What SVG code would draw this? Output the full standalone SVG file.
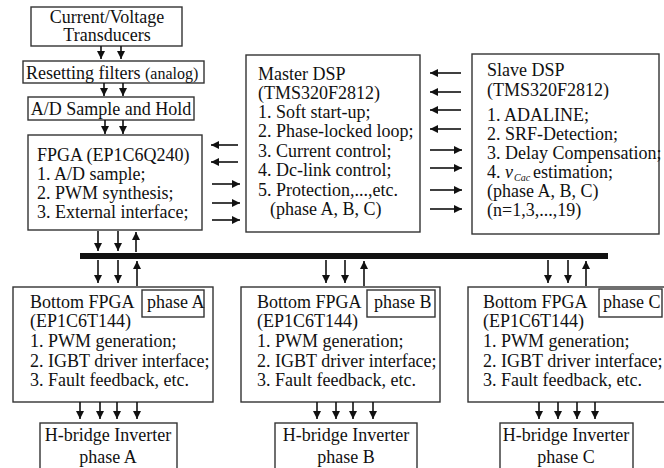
<svg xmlns="http://www.w3.org/2000/svg" width="664" height="468" viewBox="0 0 664 468">
<style>
.box{fill:#fff;stroke:#333;stroke-width:1.4}
text{font-family:'Liberation Serif','DejaVu Serif',serif;font-size:18px;fill:#111}
.sm{font-size:16px}
.c{text-anchor:middle}
.ln{stroke:#111;stroke-width:1.6;fill:none;marker-end:url(#ah)}
</style>
<defs>
<marker id="ah" markerUnits="userSpaceOnUse" markerWidth="9" markerHeight="8" refX="8" refY="4" orient="auto">
<path d="M0,0 L8,4 L0,8 Z" fill="#111"/>
</marker>
</defs>
<rect width="664" height="468" fill="#fff"/>
<g font-family="'Liberation Serif','DejaVu Serif',serif">
<g id="transducers"><rect class="box" x="31" y="7" width="151" height="39"/>
<text class="c" x="107" y="23" font-size="17px">Current/Voltage</text><text class="c" x="107" y="41" font-size="17px">Transducers</text></g>
<g id="filters"><rect class="box" x="23" y="61" width="181" height="22"/>
<text x="26" y="79">Resetting filters <tspan class="sm">(analog)</tspan></text></g>
<g id="adsample"><rect class="box" x="28" y="97" width="166" height="23"/>
<text class="c" x="111" y="115">A/D Sample and Hold</text></g>
<g id="fpga"><rect class="box" x="28" y="135" width="174" height="95"/>
<text x="37" y="161">FPGA (EP1C6Q240)</text>
<text x="37" y="180">1. A/D sample;</text>
<text x="37" y="199">2. PWM synthesis;</text>
<text x="37" y="218">3. External interface;</text></g>
<g id="master"><rect class="box" x="246" y="55" width="174" height="177"/>
<text x="258" y="80">Master DSP</text>
<text x="258" y="99">(TMS320F2812)</text>
<text x="258" y="118">1. Soft start-up;</text>
<text x="258" y="137">2. Phase-locked loop;</text>
<text x="258" y="157">3. Current control;</text>
<text x="258" y="176">4. Dc-link control;</text>
<text x="258" y="196">5. Protection,...,etc.</text>
<text x="270" y="215">(phase A, B, C)</text></g>
<g id="slave"><rect class="box" x="472" y="54" width="187" height="180"/>
<text x="487" y="76">Slave DSP</text>
<text x="487" y="96">(TMS320F2812)</text>
<text x="487" y="121">1. ADALINE;</text>
<text x="487" y="140">2. SRF-Detection;</text>
<text x="487" y="159">3. Delay Compensation;</text>
<text x="487" y="178">4. <tspan font-style="italic">v</tspan><tspan font-style="italic" font-size="10px" dx="1" dy="3">Cac</tspan><tspan dy="-3" dx="3">estimation;</tspan></text>
<text x="487" y="197">(phase A, B, C)</text>
<text x="487" y="216">(n=1,3,...,19)</text></g>
<g id="bottomA"><rect class="box" x="13" y="287" width="200" height="115"/>
<rect class="box" x="142" y="290" width="62" height="27"/>
<text x="147" y="308">phase A</text>
<text x="30" y="308">Bottom FPGA</text>
<text x="30" y="327">(EP1C6T144)</text>
<text x="30" y="347">1. PWM generation;</text>
<text x="30" y="367">2. IGBT driver interface;</text>
<text x="30" y="386">3. Fault feedback, etc.</text></g>
<g id="bottomB"><rect class="box" x="241" y="287" width="199" height="115"/>
<rect class="box" x="367" y="290" width="68" height="27"/>
<text x="374" y="308">phase B</text>
<text x="257" y="308">Bottom FPGA</text>
<text x="257" y="327">(EP1C6T144)</text>
<text x="257" y="347">1. PWM generation;</text>
<text x="257" y="367">2. IGBT driver interface;</text>
<text x="257" y="386">3. Fault feedback, etc.</text></g>
<g id="bottomC"><rect class="box" x="468" y="287" width="199" height="115"/>
<rect class="box" x="599" y="289" width="63" height="28"/>
<text x="603" y="308">phase C</text>
<text x="483" y="308">Bottom FPGA</text>
<text x="483" y="327">(EP1C6T144)</text>
<text x="483" y="347">1. PWM generation;</text>
<text x="483" y="367">2. IGBT driver interface;</text>
<text x="483" y="386">3. Fault feedback, etc.</text></g>
<g id="hbridgeA"><rect class="box" x="40" y="423" width="137" height="60"/>
<text class="c" x="108" y="441">H-bridge Inverter</text><text class="c" x="108" y="463">phase A</text></g>
<g id="hbridgeB"><rect class="box" x="275" y="423" width="142" height="60"/>
<text class="c" x="346" y="441">H-bridge Inverter</text><text class="c" x="346" y="463">phase B</text></g>
<g id="hbridgeC"><rect class="box" x="500" y="423" width="133" height="60"/>
<text class="c" x="566" y="441">H-bridge Inverter</text><text class="c" x="566" y="463">phase C</text></g>
</g>
<g id="connectors">
<line x1="80" y1="256" x2="608" y2="256" stroke="#111" stroke-width="6"/>
<path class="ln" d="M101,46 V59"/><path class="ln" d="M121,46 V59"/>
<path class="ln" d="M104,83 V96"/><path class="ln" d="M123,83 V96"/>
<path class="ln" d="M105,120 V134"/><path class="ln" d="M123,120 V134"/>
<path class="ln" d="M238,145 H211"/><path class="ln" d="M238,162 H211"/>
<path class="ln" d="M212,184 H240"/><path class="ln" d="M212,203 H240"/><path class="ln" d="M212,220 H240"/>
<path class="ln" d="M461,73 H430"/><path class="ln" d="M461,92 H430"/><path class="ln" d="M461,110 H430"/><path class="ln" d="M461,129 H430"/>
<path class="ln" d="M430,150 H462"/><path class="ln" d="M430,168 H462"/><path class="ln" d="M430,190 H462"/><path class="ln" d="M430,209 H462"/>
<path class="ln" d="M98,231 V251"/><path class="ln" d="M118,231 V251"/><path class="ln" d="M136,252 V232"/>
<path class="ln" d="M98,260 V283"/><path class="ln" d="M118,260 V283"/><path class="ln" d="M137,286 V261"/>
<path class="ln" d="M326,260 V283"/><path class="ln" d="M345,260 V283"/><path class="ln" d="M364,286 V261"/>
<path class="ln" d="M548,260 V283"/><path class="ln" d="M568,260 V283"/><path class="ln" d="M586,286 V261"/>
<path class="ln" d="M80,402 V419"/><path class="ln" d="M100,402 V419"/><path class="ln" d="M117,402 V419"/><path class="ln" d="M137,402 V419"/>
<path class="ln" d="M317,402 V419"/><path class="ln" d="M336,402 V419"/><path class="ln" d="M353,402 V419"/><path class="ln" d="M373,402 V419"/>
<path class="ln" d="M539,402 V419"/><path class="ln" d="M558,402 V419"/><path class="ln" d="M577,402 V419"/><path class="ln" d="M595,402 V419"/>
</g>
</svg>
